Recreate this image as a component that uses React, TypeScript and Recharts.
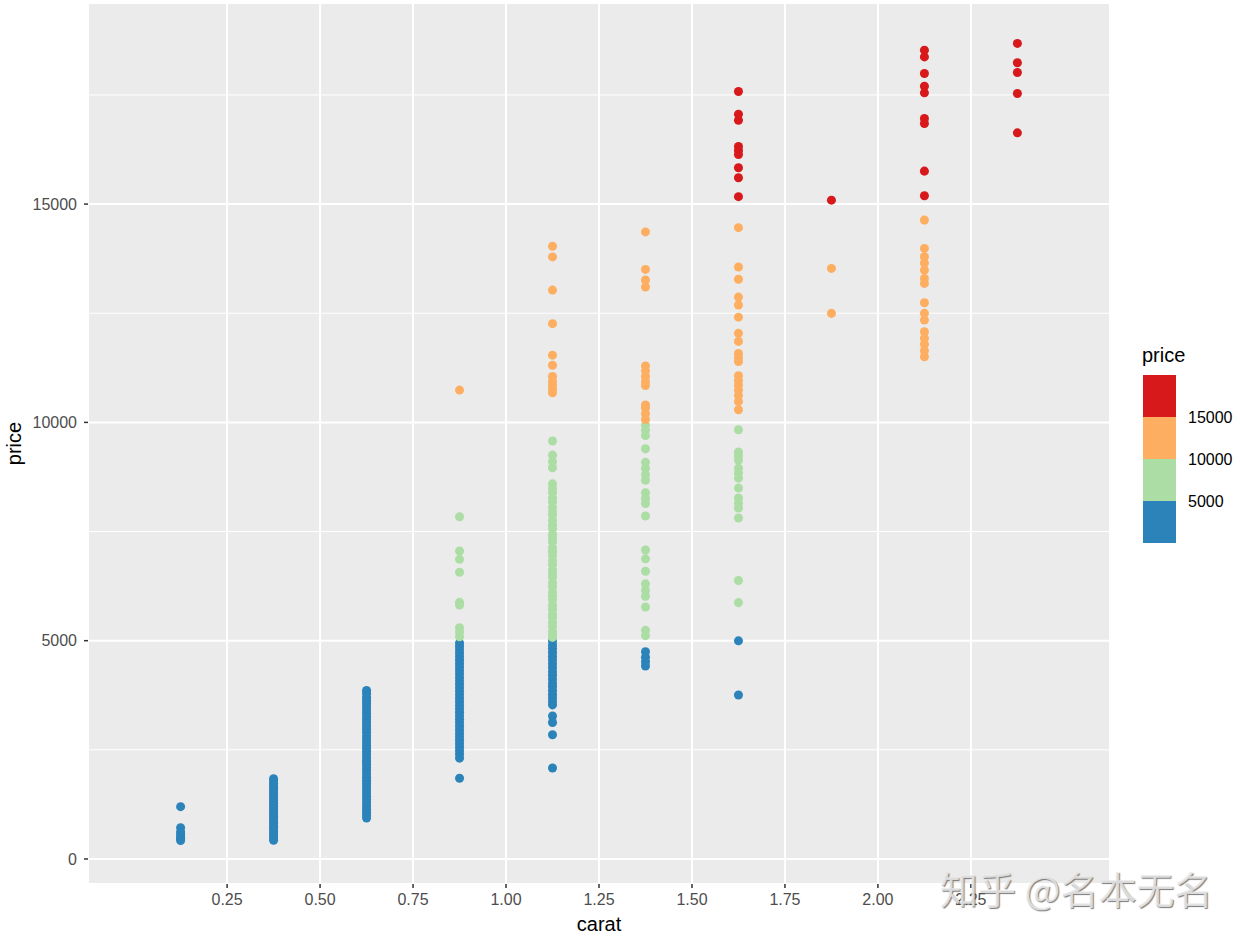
import { ScatterChart, Scatter, XAxis, YAxis, CartesianGrid } from "recharts";

const FONT = "'Liberation Sans', Arial, sans-serif";

// price values
const caratBins = [0.125, 0.375, 0.625, 0.875, 1.125, 1.375, 1.625, 1.875, 2.125, 2.375];

const prices0125 = [1198, 717, 620, 560, 500, 460, 424];
const prices0375 = [
  1840, 1790, 1730, 1670, 1620, 1560, 1500, 1440, 1380, 1330, 1270, 1210, 1150, 1090, 1040,
  980, 920, 860, 810, 750, 700, 640, 580, 530, 480, 430,
];
const prices0625 = [
  3860, 3790, 3700, 3630, 3560, 3480, 3410, 3340, 3260, 3190, 3120, 3040, 2970, 2900, 2820,
  2750, 2680, 2600, 2530, 2460, 2390, 2310, 2240, 2170, 2090, 2020, 1950, 1870, 1800, 1730,
  1650, 1580, 1510, 1430, 1360, 1290, 1210, 1140, 1070, 1000, 940,
];
const prices0875 = [
  10740, 7839, 7053, 6863, 6566, 5878, 5817, 5297, 5200, 5090,
  4950, 4880, 4800, 4720, 4640, 4560, 4480, 4400, 4320, 4240, 4160, 4080, 4000, 3920, 3840,
  3760, 3680, 3600, 3520, 3440, 3360, 3280, 3200, 3120, 3040, 2960, 2880, 2800, 2720, 2640,
  2560, 2480, 2400, 2310, 1850,
];
const prices1125 = [
  14035, 13790, 13030, 12261, 11540, 11310, 11050, 10940, 10850, 10760, 10680,
  9575, 9250, 9100, 8960, 8592, 8480, 8390, 8270, 8180, 8060, 7950, 7880, 7760, 7650, 7570,
  7440, 7350, 7260, 7130, 7040, 6950, 6830, 6740, 6620, 6530, 6450, 6320, 6230, 6110, 6020,
  5930, 5810, 5720, 5610, 5530, 5420, 5330, 5220, 5140, 5075,
  4990, 4900, 4820, 4730, 4640, 4560, 4470, 4380, 4290, 4210, 4120, 4030, 3950, 3860, 3770,
  3690, 3600, 3530, 3275, 3126, 2846, 2084,
];
const prices1375 = [
  14363, 13504, 13260, 13100, 11294, 11180, 11050, 10930, 10843, 10397, 10330, 10200, 10067,
  9943, 9820, 9698, 9396, 9084, 8950, 8800, 8675, 8388, 8260, 8143, 7857, 7078, 6875, 6589,
  6302, 6150, 6016, 5771, 5237, 5116, 4747, 4620, 4520, 4420,
];
const prices1625 = [
  17580, 17060, 16920, 16320, 16230, 16135, 15833, 15602, 15170,
  14460, 13560, 13280, 12870, 12690, 12410, 12040, 11855, 11580, 11490, 11395, 11070, 10960,
  10850, 10740, 10620, 10480, 10290,
  9830, 9323, 9230, 9137, 8952, 8840, 8723, 8495, 8267, 8150, 8038, 7809, 6378, 5872,
  4997, 3756,
];
const prices1875 = [15090, 13527, 12497];
const prices2125 = [
  18526, 18372, 17992, 17700, 17548, 16962, 16847, 15755, 15190,
  14633, 13985, 13793, 13650, 13488, 13298, 13183, 12740, 12497, 12343, 12075, 11930, 11790,
  11640, 11503,
];
const prices2375 = [18680, 18236, 18014, 17534, 16632];

const columns = [
  prices0125, prices0375, prices0625, prices0875, prices1125,
  prices1375, prices1625, prices1875, prices2125, prices2375,
];

const xTicks = [0.25, 0.5, 0.75, 1.0, 1.25, 1.5, 1.75, 2.0, 2.25];
const yTicks = [0, 5000, 10000, 15000];
const yMinor = [2500, 7500, 12500, 17500];

// binned colour scale (Spectral)
const bandColors = ["#2b83ba", "#abdda4", "#fdae61", "#d7191c"];
const bandLimits = [5000, 10000, 15000];
const legendLabels = ["15000", "10000", "5000"];

const points = columns.flatMap((col, i) => col.map((price) => ({ carat: caratBins[i], price })));
const bandOf = (p: number) => bandLimits.filter((l) => p >= l).length;
const bands = bandColors.map((_, b) => points.filter((p) => bandOf(p.price) === b));

const tickStyle = { fill: "#4d4d4d", fontSize: 16, fontFamily: FONT };

export default function App() {
  return (
    <div style={{ position: "absolute", left: 0, top: 0, width: 1240, height: 940, background: "#fff" }}>
      <ScatterChart width={1240} height={940} margin={{ top: 3, right: 130, bottom: 0, left: 0 }}>
        <CartesianGrid fill="#ebebeb" stroke="#ffffff" strokeWidth={1} vertical={false} horizontalValues={yMinor} />
        <CartesianGrid stroke="#ffffff" strokeWidth={2} fillOpacity={0} />
        <XAxis
          type="number"
          dataKey="carat"
          domain={[-0.124, 2.624]}
          ticks={xTicks}
          allowDataOverflow
          height={56}
          axisLine={false}
          tickSize={4}
          tickMargin={6}
          tickLine={{ stroke: "#333333", strokeWidth: 1.5 }}
          tick={tickStyle}
          tickFormatter={(v: number) => v.toFixed(2)}
          label={{ value: "carat", position: "insideBottom", offset: 9, fill: "#000", fontSize: 20, fontFamily: FONT }}
        />
        <YAxis
          type="number"
          dataKey="price"
          domain={[-573, 19606]}
          ticks={yTicks}
          allowDataOverflow
          width={88}
          axisLine={false}
          tickSize={4}
          tickMargin={7}
          tickLine={{ stroke: "#333333", strokeWidth: 1.5 }}
          tick={tickStyle}
          label={{ value: "price", angle: -90, position: "center", dx: -30, fill: "#000", fontSize: 20, fontFamily: FONT }}
        />
        {bands.map((data, b) => (
          <Scatter key={b} data={data} fill={bandColors[b]} isAnimationActive={false} />
        ))}
      </ScatterChart>

      <div style={{ position: "absolute", left: 1142, top: 345, fontFamily: FONT, fontSize: 20, lineHeight: "20px", color: "#000" }}>
        price
      </div>
      {[...bandColors].reverse().map((c, i) => (
        <div key={c} style={{ position: "absolute", left: 1143, top: 375 + i * 42, width: 33, height: 42, background: c }} />
      ))}
      {legendLabels.map((t, i) => (
        <div
          key={t}
          style={{ position: "absolute", left: 1188, top: 410 + i * 42, fontFamily: FONT, fontSize: 16, lineHeight: "16px", color: "#000" }}
        >
          {t}
        </div>
      ))}

      <div
        style={{
          position: "absolute",
          left: 940,
          top: 866,
          fontFamily: "'Noto Sans CJK SC', sans-serif",
          fontSize: 38,
          lineHeight: "44px",
          color: "rgba(235,235,235,0.85)",
          textShadow: "1px 1px 1px rgba(90,90,90,0.8)",
          whiteSpace: "nowrap",
        }}
      >
        知乎 @名本无名
      </div>
    </div>
  );
}
